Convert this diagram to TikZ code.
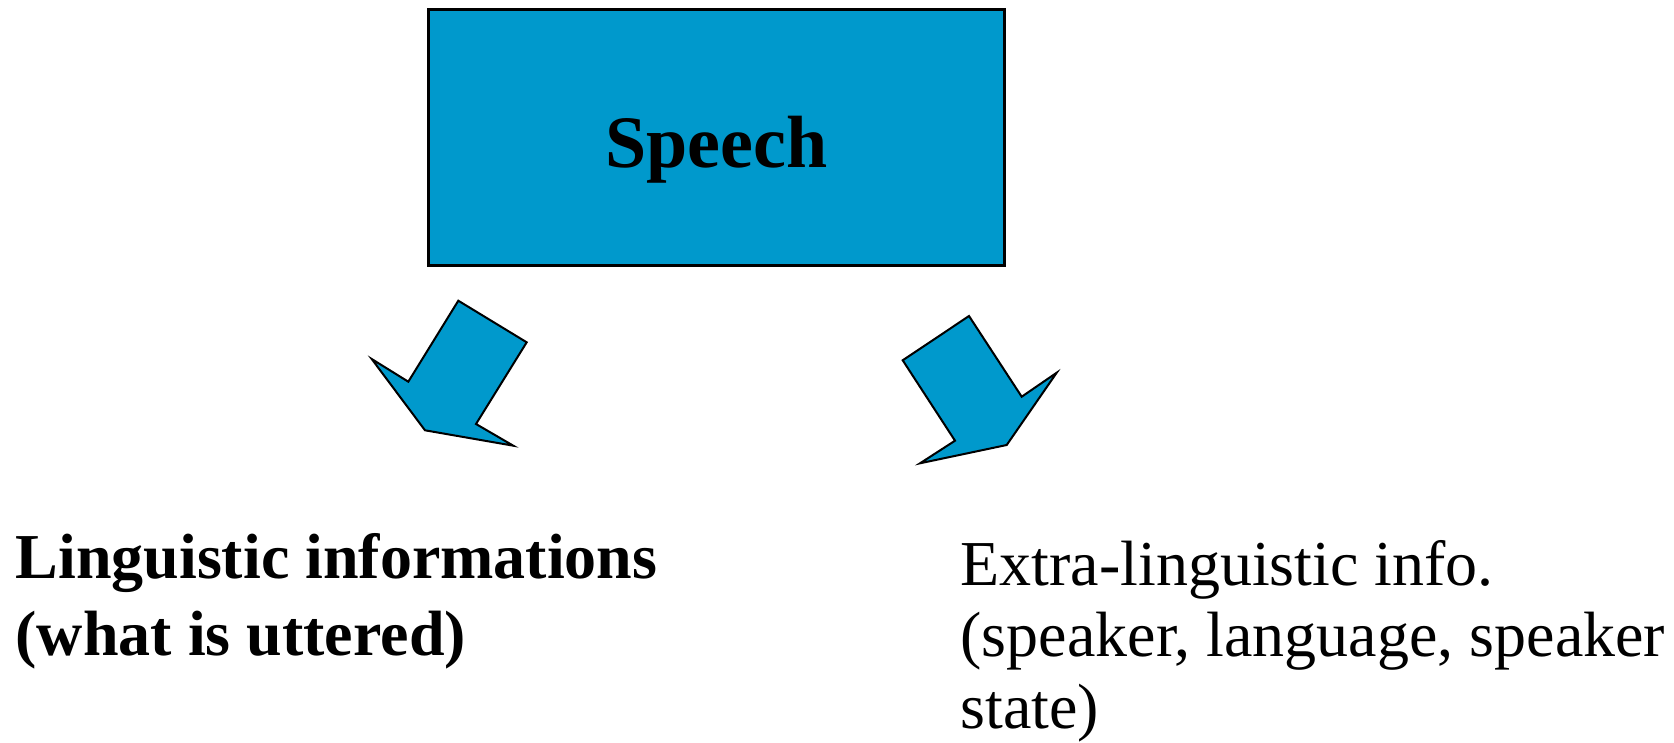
\documentclass[tikz,border=0pt]{standalone}
\usepackage{fontspec}
\setmainfont{Liberation Serif}
\usetikzlibrary{positioning}
\definecolor{speechblue}{RGB}{0,153,204}

\begin{document}
\begin{tikzpicture}[
            x = 0.5pt, % one unit per pixel of the slide
            y = -0.5pt, % counted from the top
            semithick
        ]

        \tikzstyle{box}=[
            draw,
            line width = 1.5pt,
            fill = speechblue,
            inner sep = 0pt
        ]
        \tikzstyle{bigarrow}=[
            draw,
            line width = 1pt,
            fill = speechblue,
            line join = miter
        ]
        \tikzstyle{infotext}=[
            inner sep = 0pt,
            align = left,
            anchor = base west, % base of the last line
            font = \fontsize{32}{35.75}\selectfont
        ]

        \useasboundingbox (0,0) rectangle (1674,743);

	% SPEECH BOX
        \node[box, anchor=north west, minimum width=288pt, minimum height=127.75pt,
              text height=30pt, text depth=0pt,
              font=\bfseries\fontsize{37}{44}\selectfont] (speech) at (427,8.5) {Speech};

	% ARROWS DOWN TO THE TWO KINDS OF INFORMATION
        \draw[bigarrow] (458.3,300.7) -- (526.7,342.3) -- (476,424) -- (513.3,445.7)
            -- (425,430.3) -- (371.7,359) -- (408.3,381.7) -- cycle;
        \draw[bigarrow] (969,316) -- (902.7,360.3) -- (955,440.7) -- (920,463.3)
            -- (1006.7,445) -- (1056.7,372.7) -- (1021.7,396.7) -- cycle;

	% INFORMATION TEXTS
        \node[infotext, font=\bfseries\fontsize{32}{38.5}\selectfont] (linguistic) at (15,655)
            {Linguistic informations\\(what is uttered)};
        \node[infotext] (extra) at (960,728)
            {Extra-linguistic info.\\(speaker, language, speaker\\state)};

  \end{tikzpicture}
\end{document}
